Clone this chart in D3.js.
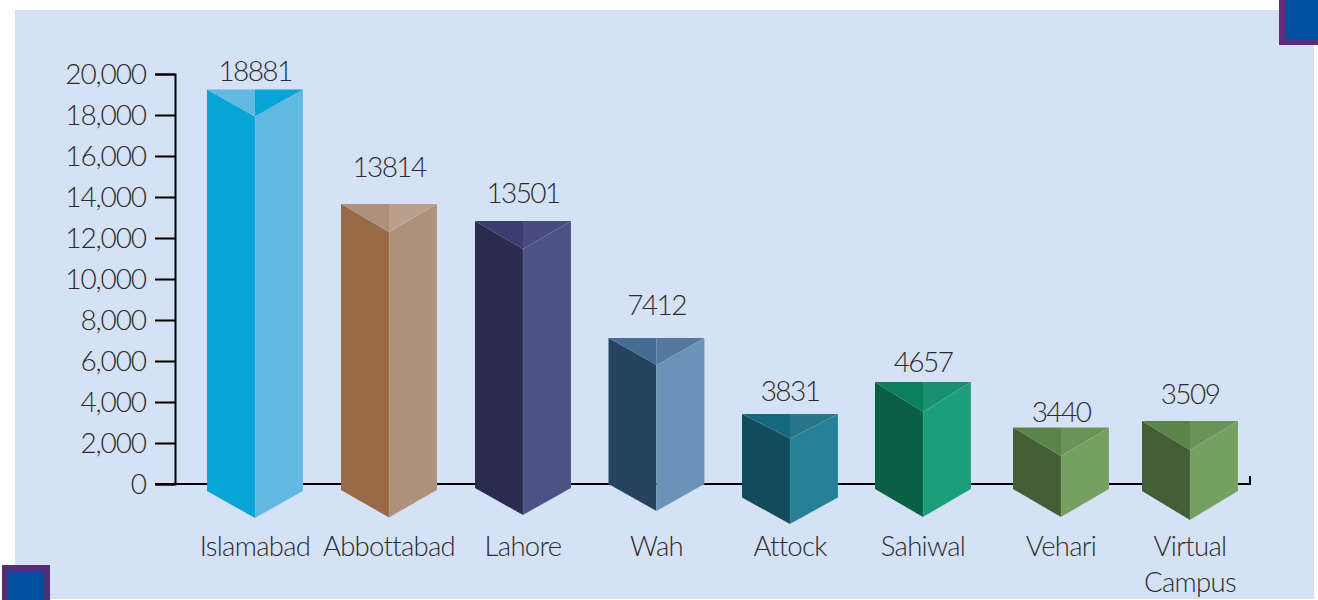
<!DOCTYPE html>
<html>
<head>
<meta charset="utf-8">
<script src="https://cdn.jsdelivr.net/npm/d3@7"></script>
<style>
html, body { margin: 0; padding: 0; background: #fff; }
svg { display: block; }
text { font-family: Lato, "Open Sans", sans-serif; font-weight: 300; fill: #2c2c2e; }
</style>
</head>
<body>
<div id="chart"></div>
<script>
var campuses = ["Islamabad", "Abbottabad", "Lahore", "Wah", "Attock", "Sahiwal", "Vehari", "Virtual Campus"];
var students = [18881, 13814, 13501, 7412, 3831, 4657, 3440, 3509];
var tickValues = [0, 2000, 4000, 6000, 8000, 10000, 12000, 14000, 16000, 18000, 20000];

// the drawn prisms do not sit exactly on the printed numbers, so these are read off the axis
var backTop = [19244, 13659, 12829, 7122, 3415, 4976, 2756, 3073];
var frontTop = [17927, 12293, 11463, 5805, 2220, 3512, 1366, 1659];
var sideBottom = [-341, -293, -195, 0, -659, -244, -244, -341];
var frontBottom = [-1659, -1634, -1512, -1317, -1951, -1610, -1610, -1756];

var leftColors = ["#06a5d5", "#9a6a47", "#2a2b4f", "#25455f", "#134b5d", "#0a6045", "#445f38", "#445f38"];
var rightColors = ["#60b9e1", "#ae917a", "#4c5186", "#6b92b9", "#258098", "#1b9e7a", "#74a15f", "#74a15f"];
var capLeftColors = ["#60b9e1", "#ae917a", "#3a3d70", "#466c93", "#166a7f", "#0b805d", "#5a8548", "#5a8548"];
var capRightColors = ["#06a5d5", "#b9a08d", "#474b7e", "#55799e", "#277689", "#1b906f", "#6b9359", "#6b9359"];

var labelGaps = [8, 27, 18, 23, 13, 10, 6, 17];

var width = 1318, height = 600, halfBar = 48;

var svg = d3.select("#chart").append("svg")
    .attr("width", width)
    .attr("height", height);

// page furniture
svg.append("rect").attr("x", 15).attr("y", 10).attr("width", 1299).attr("height", 589).attr("fill", "#d5e1f4");
svg.append("rect").attr("x", 1279).attr("y", 0).attr("width", 39).attr("height", 45).attr("fill", "#5a2e7c");
svg.append("rect").attr("x", 1286).attr("y", 0).attr("width", 32).attr("height", 39).attr("fill", "#0050a4");
svg.append("rect").attr("x", 2).attr("y", 565).attr("width", 48).attr("height", 35).attr("fill", "#532d77");
svg.append("rect").attr("x", 8).attr("y", 571).attr("width", 35).attr("height", 29).attr("fill", "#0050a4");

var x = d3.scaleOrdinal()
    .domain(campuses)
    .range([255, 389, 523, 656.5, 790, 923, 1061, 1190]);

var y = d3.scaleLinear()
    .domain([0, 20000])
    .range([484, 74]);

var yAxis = d3.axisLeft(y)
    .tickValues(tickValues)
    .tickSize(20)
    .tickPadding(9)
    .tickFormat(d3.format(","));

var axisG = svg.append("g")
    .attr("transform", "translate(175,0)")
    .call(yAxis);
axisG.select(".domain").attr("stroke", "#000").attr("stroke-width", 2);
axisG.selectAll(".tick line").attr("stroke", "#000").attr("stroke-width", 2);
axisG.selectAll(".tick text")
    .style("font-size", "28px")
    .style("letter-spacing", "-1.1px")
    .attr("dy", "0.33em");

// baseline, with the small closing tick on the right
svg.append("path")
    .attr("d", d3.line()([[155, y(0)], [1250, y(0)], [1250, y(0) - 8]]))
    .attr("fill", "none")
    .attr("stroke", "#000")
    .attr("stroke-width", 2);

function poly(points) {
    return d3.line()(points) + "Z";
}

var bars = svg.selectAll("g.bar")
    .data(campuses)
    .enter()
    .append("g")
    .attr("class", "bar");

// left face
bars.append("path")
    .attr("fill", function(d, i) { return leftColors[i]; })
    .attr("d", function(d, i) {
        var c = x(d);
        return poly([[c - halfBar, y(backTop[i])], [c, y(frontTop[i])], [c, y(frontBottom[i])], [c - halfBar, y(sideBottom[i])]]);
    });

// right face
bars.append("path")
    .attr("fill", function(d, i) { return rightColors[i]; })
    .attr("stroke", "#fff")
    .attr("stroke-opacity", 0.12)
    .attr("d", function(d, i) {
        var c = x(d);
        return poly([[c, y(frontTop[i])], [c + halfBar, y(backTop[i])], [c + halfBar, y(sideBottom[i])], [c, y(frontBottom[i])]]);
    });

// the two halves of the top
bars.append("path")
    .attr("fill", function(d, i) { return capLeftColors[i]; })
    .attr("d", function(d, i) {
        var c = x(d);
        return poly([[c - halfBar, y(backTop[i])], [c, y(backTop[i])], [c, y(frontTop[i])]]);
    });
bars.append("path")
    .attr("fill", function(d, i) { return capRightColors[i]; })
    .attr("d", function(d, i) {
        var c = x(d);
        return poly([[c, y(backTop[i])], [c + halfBar, y(backTop[i])], [c, y(frontTop[i])]]);
    });

// numbers above the bars
bars.append("text")
    .attr("text-anchor", "middle")
    .style("font-size", "28px")
    .style("letter-spacing", "-1.6px")
    .attr("x", function(d) { return x(d); })
    .attr("y", function(d, i) { return y(backTop[i]) - labelGaps[i]; })
    .text(function(d, i) { return students[i]; });

// campus names, the last one breaks over two lines
var names = bars.append("text")
    .attr("text-anchor", "middle")
    .style("font-size", "27.5px")
    .style("letter-spacing", "-0.7px")
    .attr("y", 556);

names.selectAll("tspan")
    .data(function(d) {
        return d.split(" ").map(function(w) { return { word: w, cx: x(d) }; });
    })
    .enter()
    .append("tspan")
    .attr("x", function(d) { return d.cx; })
    .attr("dy", function(d, i) { return i ? 36 : 0; })
    .text(function(d) { return d.word; });
</script>
</body>
</html>
